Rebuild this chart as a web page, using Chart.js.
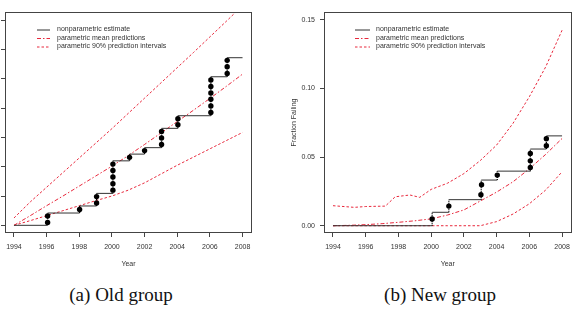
<!DOCTYPE html>
<html>
<head>
<meta charset="utf-8">
<script src="https://cdn.jsdelivr.net/npm/chart.js@4/dist/chart.umd.min.js"></script>
<style>
  html, body { margin: 0; padding: 0; background: #fff; }
  body { width: 576px; height: 321px; position: relative; overflow: hidden; }
  canvas { position: absolute; top: 0; }
  .cap { position: absolute; font-family: "Liberation Serif", serif; font-size: 19px; color: #111;
         transform: translate(-50%, -50%); white-space: nowrap; }
</style>
</head>
<body>
<canvas id="cOld" width="288" height="275" style="left:0px"></canvas>
<canvas id="cNew" width="288" height="275" style="left:288px"></canvas>
<div class="cap" style="left:121px; top:295px;">(a) Old group</div>
<div class="cap" style="left:440px; top:295px;">(b) New group</div>
<script>
// ---------- shared ----------
const years = [1994, 1995, 1996, 1997, 1998, 1999, 2000, 2001, 2002, 2003, 2004, 2005, 2006, 2007, 2008];
const xTickValues = [1994, 1996, 1998, 2000, 2002, 2004, 2006, 2008];
const legendLabels = ["nonparametric estimate", "parametric mean predictions", "parametric 90% prediction intervals"];

// ---------- old group (y tick labels are cut off in the reference) ----------
const oldYTicks = [0, 0.05, 0.10, 0.15, 0.20, 0.25, 0.30, 0.35];
const oldMean  = [0, 0.0165, 0.0335, 0.05, 0.067, 0.084, 0.101, 0.119, 0.138, 0.1575, 0.177, 0.1965, 0.2165, 0.237, 0.258];
const oldUpper = [0.0125, 0.04, 0.065, 0.09, 0.115, 0.14, 0.165, 0.191, 0.217, 0.243, 0.269, 0.295, 0.3215, 0.348, 0.375];
const oldLower = [0, 0.008, 0.0165, 0.025, 0.0335, 0.042, 0.05, 0.06, 0.0725, 0.0875, 0.1025, 0.1165, 0.1305, 0.1445, 0.1585];
const oldStepTimes  = [1994, 1996.06, 1998.02, 1999.06, 2000.06, 2001.08, 2002.0, 2003.04, 2004.04, 2006.06, 2007.06];
const oldStepLevels = [0, 0.021, 0.033, 0.0545, 0.11, 0.1215, 0.1325, 0.1655, 0.187, 0.2535, 0.286];
const oldStepEnd = 2008.0;
const oldPointTimes  = [1996.06, 1996.06, 1998.02, 1999.06, 1999.06, 2000.06, 2000.06, 2000.06, 2000.06, 2000.06,
                        2001.08, 2002.0, 2003.04, 2003.04, 2003.04, 2004.04, 2004.04,
                        2006.06, 2006.06, 2006.06, 2006.06, 2006.06, 2006.06, 2007.06, 2007.06, 2007.06];
const oldPointValues = [0.005, 0.016, 0.027, 0.038, 0.049, 0.060, 0.071, 0.0825, 0.0935, 0.1045,
                        0.116, 0.1275, 0.138, 0.149, 0.16, 0.1715, 0.182,
                        0.1925, 0.2035, 0.215, 0.226, 0.237, 0.248, 0.259, 0.2705, 0.2815];

// ---------- new group ----------
const newYTicks = [0, 0.05, 0.10, 0.15];
const newMean  = [0, 0.0003, 0.0008, 0.0015, 0.0025, 0.0036, 0.005, 0.0078, 0.0115, 0.018, 0.0245, 0.032, 0.0415, 0.052, 0.0636];
const newLower = [0, 0, 0, 0, 0, 0, 0, 0, 0, 0, 0.003, 0.0085, 0.016, 0.026, 0.0393];
const newUpperYears  = [1994, 1995.3, 1996, 1997.2, 1997.8, 1998.7, 1999.3, 2000, 2001, 2002, 2003, 2004, 2005, 2006, 2007, 2008];
const newUpperValues = [0.0146, 0.0134, 0.014, 0.0143, 0.0211, 0.0224, 0.0207, 0.0265, 0.031, 0.038, 0.0475, 0.0588, 0.0746, 0.094, 0.1158, 0.1425];
const newStepTimes  = [1994, 2000.06, 2001.08, 2003.06, 2004.04, 2006.06, 2007.04];
const newStepLevels = [0, 0.0098, 0.019, 0.0333, 0.0398, 0.0559, 0.0655];
const newStepEnd = 2008.0;
const newPointTimes  = [2000.06, 2001.08, 2003.04, 2003.08, 2004.04, 2006.06, 2006.06, 2006.06, 2007.04, 2007.04];
const newPointValues = [0.0049, 0.0143, 0.0226, 0.0299, 0.0369, 0.0425, 0.0473, 0.0527, 0.0583, 0.0634];

// ---------- styles ----------
const RED = 'rgb(232,40,60)';
const STEP = '#333';
const AXIS = '#444';
const TXT = '#333';
const FONT = { family: '"Liberation Sans", Arial, sans-serif', size: 7 };
const MEAN_DASH = [4, 2, 1.5, 2];
const PI_DASH = [2.5, 2];

function zip(xs, ys) { return xs.map((x, i) => ({ x: x, y: ys[i] })); }

function horizontalSegs(times, levels, end) {
  const out = [];
  for (let i = 0; i < times.length; i++) {
    const t1 = i + 1 < times.length ? times[i + 1] : end;
    out.push({ x: times[i], y: levels[i] }, { x: t1, y: levels[i] }, { x: t1, y: null });
  }
  return out;
}
function verticalSegs(times, levels) {
  const out = [];
  for (let i = 1; i < times.length; i++) {
    out.push({ x: times[i], y: levels[i - 1] }, { x: times[i], y: levels[i] }, { x: times[i], y: null });
  }
  return out;
}

function makeDatasets(g) {
  return [
    { data: zip(g.pt, g.pv), showLine: false, pointRadius: 2.7, pointBackgroundColor: '#000',
      pointBorderColor: '#000', pointBorderWidth: 0, borderWidth: 0 },
    { data: horizontalSegs(g.st, g.sl, g.se), borderColor: STEP, borderWidth: 1, pointRadius: 0, spanGaps: false },
    { data: verticalSegs(g.st, g.sl), borderColor: '#000', borderWidth: 1.3, borderDash: [1, 1], pointRadius: 0, spanGaps: false },
    { data: g.mean, borderColor: RED, borderWidth: 1, borderDash: MEAN_DASH, pointRadius: 0 },
    { data: g.upper, borderColor: RED, borderWidth: 1, borderDash: PI_DASH, pointRadius: 0 },
    { data: g.lower, borderColor: RED, borderWidth: 1, borderDash: PI_DASH, pointRadius: 0 }
  ];
}

const framePlugin = {
  id: 'frameLegend',
  afterDraw(chart, args, opts) {
    const { ctx, chartArea: a } = chart;
    ctx.save();
    ctx.strokeStyle = AXIS; ctx.lineWidth = 1; ctx.setLineDash([]);
    ctx.strokeRect(Math.round(a.left) + 0.5, Math.round(a.top) + 0.5,
                   Math.round(a.right - a.left) - 1, Math.round(a.bottom - a.top) - 1);
    // legend
    const rows = [29.5, 38, 46.5];
    const styles = [{ c: STEP, d: [] }, { c: RED, d: MEAN_DASH }, { c: RED, d: PI_DASH }];
    ctx.font = FONT.size + 'px ' + FONT.family;
    ctx.textBaseline = 'middle';
    ctx.textAlign = 'left';
    rows.forEach((y, i) => {
      ctx.strokeStyle = styles[i].c; ctx.setLineDash(styles[i].d); ctx.lineWidth = 1;
      ctx.beginPath(); ctx.moveTo(opts.x0, y + 0.5); ctx.lineTo(opts.x1, y + 0.5); ctx.stroke();
      ctx.fillStyle = TXT;
      ctx.fillText(legendLabels[i], opts.tx, y);
    });
    ctx.restore();
  }
};

function makeChart(id, g) {
  return new Chart(document.getElementById(id), {
    type: 'line',
    data: { datasets: makeDatasets(g) },
    options: {
      responsive: false, animation: false, devicePixelRatio: 1,
      layout: { padding: { left: 0, top: 12, right: g.padRight, bottom: 0 } },
      plugins: { legend: { display: false }, tooltip: { enabled: false }, frameLegend: g.legend },
      scales: {
        x: {
          type: 'linear', min: 1993.45, max: 2008.58,
          afterBuildTicks: s => { s.ticks = xTickValues.map(v => ({ value: v })); },
          afterFit: s => { s.height = 42; },
          ticks: { font: FONT, color: TXT, padding: 6, maxRotation: 0, autoSkip: false, callback: v => String(v) },
          grid: { display: true, drawOnChartArea: false, drawTicks: true, tickLength: 4, color: AXIS },
          border: { display: false },
          title: { display: true, text: 'Year', font: FONT, color: TXT, padding: { top: 0, bottom: 7 } }
        },
        y: {
          type: 'linear', min: g.ymin, max: g.ymax,
          afterBuildTicks: s => { s.ticks = g.yticks.map(v => ({ value: v })); },
          afterFit: s => { s.width = g.yWidth; },
          ticks: { font: FONT, color: TXT, padding: 5, autoSkip: false,
                   callback: v => g.showYLabels ? v.toFixed(2) : '' },
          grid: { display: true, drawOnChartArea: false, drawTicks: true, tickLength: 4, color: AXIS },
          border: { display: false },
          title: { display: g.showYLabels, text: 'Fraction Failing', font: FONT, color: TXT, padding: { top: 2, bottom: 0 } }
        }
      }
    },
    plugins: [framePlugin]
  });
}

makeChart('cOld', {
  pt: oldPointTimes, pv: oldPointValues, st: oldStepTimes, sl: oldStepLevels, se: oldStepEnd,
  mean: zip(years, oldMean), upper: zip(years, oldUpper), lower: zip(years, oldLower),
  yticks: oldYTicks, ymin: -0.0131, ymax: 0.364, yWidth: 5, padRight: 36, showYLabels: false,
  legend: { x0: 37, x1: 50, tx: 57 }
});
makeChart('cNew', {
  pt: newPointTimes, pv: newPointValues, st: newStepTimes, sl: newStepLevels, se: newStepEnd,
  mean: zip(years, newMean), upper: zip(newUpperYears, newUpperValues), lower: zip(years, newLower),
  yticks: newYTicks, ymin: -0.0053, ymax: 0.1558, yWidth: 36, padRight: 4, showYLabels: true,
  legend: { x0: 67, x1: 82, tx: 88 }
});
</script>
</body>
</html>
